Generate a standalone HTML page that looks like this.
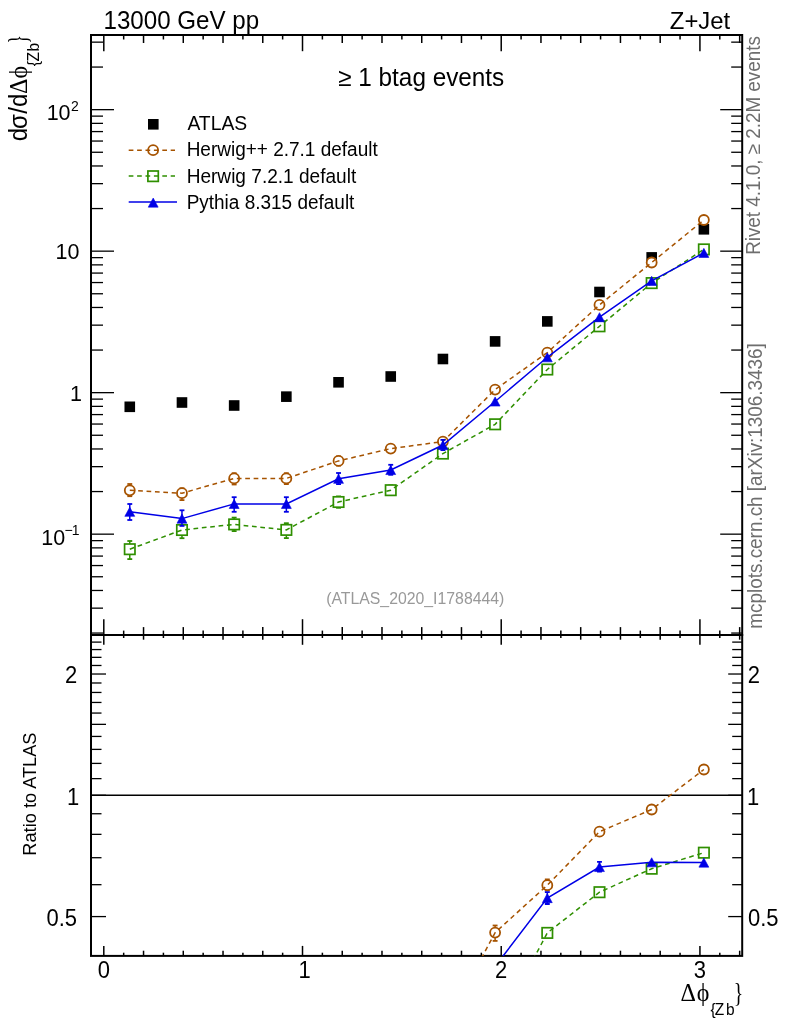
<!DOCTYPE html>
<html><head><meta charset="utf-8"><style>html,body{margin:0;padding:0;background:#fff;}svg{display:block;will-change:transform;}</style></head>
<body><svg width="786" height="1024" viewBox="0 0 786 1024">
<rect width="786" height="1024" fill="#fff"/>
<line x1="103.80" y1="35.00" x2="103.80" y2="51.20" stroke="#000" stroke-width="1.5"/>
<line x1="103.80" y1="635.00" x2="103.80" y2="619.20" stroke="#000" stroke-width="1.5"/>
<line x1="103.80" y1="635.00" x2="103.80" y2="644.80" stroke="#000" stroke-width="1.5"/>
<line x1="103.80" y1="955.90" x2="103.80" y2="945.90" stroke="#000" stroke-width="1.5"/>
<line x1="123.67" y1="35.00" x2="123.67" y2="39.50" stroke="#000" stroke-width="1.5"/>
<line x1="123.67" y1="635.00" x2="123.67" y2="630.60" stroke="#000" stroke-width="1.5"/>
<line x1="123.67" y1="635.00" x2="123.67" y2="638.00" stroke="#000" stroke-width="1.5"/>
<line x1="123.67" y1="955.90" x2="123.67" y2="952.70" stroke="#000" stroke-width="1.5"/>
<line x1="143.54" y1="35.00" x2="143.54" y2="43.00" stroke="#000" stroke-width="1.5"/>
<line x1="143.54" y1="635.00" x2="143.54" y2="627.10" stroke="#000" stroke-width="1.5"/>
<line x1="143.54" y1="635.00" x2="143.54" y2="639.70" stroke="#000" stroke-width="1.5"/>
<line x1="143.54" y1="955.90" x2="143.54" y2="950.70" stroke="#000" stroke-width="1.5"/>
<line x1="163.41" y1="35.00" x2="163.41" y2="39.50" stroke="#000" stroke-width="1.5"/>
<line x1="163.41" y1="635.00" x2="163.41" y2="630.60" stroke="#000" stroke-width="1.5"/>
<line x1="163.41" y1="635.00" x2="163.41" y2="638.00" stroke="#000" stroke-width="1.5"/>
<line x1="163.41" y1="955.90" x2="163.41" y2="952.70" stroke="#000" stroke-width="1.5"/>
<line x1="183.28" y1="35.00" x2="183.28" y2="43.00" stroke="#000" stroke-width="1.5"/>
<line x1="183.28" y1="635.00" x2="183.28" y2="627.10" stroke="#000" stroke-width="1.5"/>
<line x1="183.28" y1="635.00" x2="183.28" y2="639.70" stroke="#000" stroke-width="1.5"/>
<line x1="183.28" y1="955.90" x2="183.28" y2="950.70" stroke="#000" stroke-width="1.5"/>
<line x1="203.16" y1="35.00" x2="203.16" y2="39.50" stroke="#000" stroke-width="1.5"/>
<line x1="203.16" y1="635.00" x2="203.16" y2="630.60" stroke="#000" stroke-width="1.5"/>
<line x1="203.16" y1="635.00" x2="203.16" y2="638.00" stroke="#000" stroke-width="1.5"/>
<line x1="203.16" y1="955.90" x2="203.16" y2="952.70" stroke="#000" stroke-width="1.5"/>
<line x1="223.03" y1="35.00" x2="223.03" y2="43.00" stroke="#000" stroke-width="1.5"/>
<line x1="223.03" y1="635.00" x2="223.03" y2="627.10" stroke="#000" stroke-width="1.5"/>
<line x1="223.03" y1="635.00" x2="223.03" y2="639.70" stroke="#000" stroke-width="1.5"/>
<line x1="223.03" y1="955.90" x2="223.03" y2="950.70" stroke="#000" stroke-width="1.5"/>
<line x1="242.90" y1="35.00" x2="242.90" y2="39.50" stroke="#000" stroke-width="1.5"/>
<line x1="242.90" y1="635.00" x2="242.90" y2="630.60" stroke="#000" stroke-width="1.5"/>
<line x1="242.90" y1="635.00" x2="242.90" y2="638.00" stroke="#000" stroke-width="1.5"/>
<line x1="242.90" y1="955.90" x2="242.90" y2="952.70" stroke="#000" stroke-width="1.5"/>
<line x1="262.77" y1="35.00" x2="262.77" y2="43.00" stroke="#000" stroke-width="1.5"/>
<line x1="262.77" y1="635.00" x2="262.77" y2="627.10" stroke="#000" stroke-width="1.5"/>
<line x1="262.77" y1="635.00" x2="262.77" y2="639.70" stroke="#000" stroke-width="1.5"/>
<line x1="262.77" y1="955.90" x2="262.77" y2="950.70" stroke="#000" stroke-width="1.5"/>
<line x1="282.64" y1="35.00" x2="282.64" y2="39.50" stroke="#000" stroke-width="1.5"/>
<line x1="282.64" y1="635.00" x2="282.64" y2="630.60" stroke="#000" stroke-width="1.5"/>
<line x1="282.64" y1="635.00" x2="282.64" y2="638.00" stroke="#000" stroke-width="1.5"/>
<line x1="282.64" y1="955.90" x2="282.64" y2="952.70" stroke="#000" stroke-width="1.5"/>
<line x1="302.51" y1="35.00" x2="302.51" y2="51.20" stroke="#000" stroke-width="1.5"/>
<line x1="302.51" y1="635.00" x2="302.51" y2="619.20" stroke="#000" stroke-width="1.5"/>
<line x1="302.51" y1="635.00" x2="302.51" y2="644.80" stroke="#000" stroke-width="1.5"/>
<line x1="302.51" y1="955.90" x2="302.51" y2="945.90" stroke="#000" stroke-width="1.5"/>
<line x1="322.38" y1="35.00" x2="322.38" y2="39.50" stroke="#000" stroke-width="1.5"/>
<line x1="322.38" y1="635.00" x2="322.38" y2="630.60" stroke="#000" stroke-width="1.5"/>
<line x1="322.38" y1="635.00" x2="322.38" y2="638.00" stroke="#000" stroke-width="1.5"/>
<line x1="322.38" y1="955.90" x2="322.38" y2="952.70" stroke="#000" stroke-width="1.5"/>
<line x1="342.25" y1="35.00" x2="342.25" y2="43.00" stroke="#000" stroke-width="1.5"/>
<line x1="342.25" y1="635.00" x2="342.25" y2="627.10" stroke="#000" stroke-width="1.5"/>
<line x1="342.25" y1="635.00" x2="342.25" y2="639.70" stroke="#000" stroke-width="1.5"/>
<line x1="342.25" y1="955.90" x2="342.25" y2="950.70" stroke="#000" stroke-width="1.5"/>
<line x1="362.12" y1="35.00" x2="362.12" y2="39.50" stroke="#000" stroke-width="1.5"/>
<line x1="362.12" y1="635.00" x2="362.12" y2="630.60" stroke="#000" stroke-width="1.5"/>
<line x1="362.12" y1="635.00" x2="362.12" y2="638.00" stroke="#000" stroke-width="1.5"/>
<line x1="362.12" y1="955.90" x2="362.12" y2="952.70" stroke="#000" stroke-width="1.5"/>
<line x1="381.99" y1="35.00" x2="381.99" y2="43.00" stroke="#000" stroke-width="1.5"/>
<line x1="381.99" y1="635.00" x2="381.99" y2="627.10" stroke="#000" stroke-width="1.5"/>
<line x1="381.99" y1="635.00" x2="381.99" y2="639.70" stroke="#000" stroke-width="1.5"/>
<line x1="381.99" y1="955.90" x2="381.99" y2="950.70" stroke="#000" stroke-width="1.5"/>
<line x1="401.87" y1="35.00" x2="401.87" y2="39.50" stroke="#000" stroke-width="1.5"/>
<line x1="401.87" y1="635.00" x2="401.87" y2="630.60" stroke="#000" stroke-width="1.5"/>
<line x1="401.87" y1="635.00" x2="401.87" y2="638.00" stroke="#000" stroke-width="1.5"/>
<line x1="401.87" y1="955.90" x2="401.87" y2="952.70" stroke="#000" stroke-width="1.5"/>
<line x1="421.74" y1="35.00" x2="421.74" y2="43.00" stroke="#000" stroke-width="1.5"/>
<line x1="421.74" y1="635.00" x2="421.74" y2="627.10" stroke="#000" stroke-width="1.5"/>
<line x1="421.74" y1="635.00" x2="421.74" y2="639.70" stroke="#000" stroke-width="1.5"/>
<line x1="421.74" y1="955.90" x2="421.74" y2="950.70" stroke="#000" stroke-width="1.5"/>
<line x1="441.61" y1="35.00" x2="441.61" y2="39.50" stroke="#000" stroke-width="1.5"/>
<line x1="441.61" y1="635.00" x2="441.61" y2="630.60" stroke="#000" stroke-width="1.5"/>
<line x1="441.61" y1="635.00" x2="441.61" y2="638.00" stroke="#000" stroke-width="1.5"/>
<line x1="441.61" y1="955.90" x2="441.61" y2="952.70" stroke="#000" stroke-width="1.5"/>
<line x1="461.48" y1="35.00" x2="461.48" y2="43.00" stroke="#000" stroke-width="1.5"/>
<line x1="461.48" y1="635.00" x2="461.48" y2="627.10" stroke="#000" stroke-width="1.5"/>
<line x1="461.48" y1="635.00" x2="461.48" y2="639.70" stroke="#000" stroke-width="1.5"/>
<line x1="461.48" y1="955.90" x2="461.48" y2="950.70" stroke="#000" stroke-width="1.5"/>
<line x1="481.35" y1="35.00" x2="481.35" y2="39.50" stroke="#000" stroke-width="1.5"/>
<line x1="481.35" y1="635.00" x2="481.35" y2="630.60" stroke="#000" stroke-width="1.5"/>
<line x1="481.35" y1="635.00" x2="481.35" y2="638.00" stroke="#000" stroke-width="1.5"/>
<line x1="481.35" y1="955.90" x2="481.35" y2="952.70" stroke="#000" stroke-width="1.5"/>
<line x1="501.22" y1="35.00" x2="501.22" y2="51.20" stroke="#000" stroke-width="1.5"/>
<line x1="501.22" y1="635.00" x2="501.22" y2="619.20" stroke="#000" stroke-width="1.5"/>
<line x1="501.22" y1="635.00" x2="501.22" y2="644.80" stroke="#000" stroke-width="1.5"/>
<line x1="501.22" y1="955.90" x2="501.22" y2="945.90" stroke="#000" stroke-width="1.5"/>
<line x1="521.09" y1="35.00" x2="521.09" y2="39.50" stroke="#000" stroke-width="1.5"/>
<line x1="521.09" y1="635.00" x2="521.09" y2="630.60" stroke="#000" stroke-width="1.5"/>
<line x1="521.09" y1="635.00" x2="521.09" y2="638.00" stroke="#000" stroke-width="1.5"/>
<line x1="521.09" y1="955.90" x2="521.09" y2="952.70" stroke="#000" stroke-width="1.5"/>
<line x1="540.96" y1="35.00" x2="540.96" y2="43.00" stroke="#000" stroke-width="1.5"/>
<line x1="540.96" y1="635.00" x2="540.96" y2="627.10" stroke="#000" stroke-width="1.5"/>
<line x1="540.96" y1="635.00" x2="540.96" y2="639.70" stroke="#000" stroke-width="1.5"/>
<line x1="540.96" y1="955.90" x2="540.96" y2="950.70" stroke="#000" stroke-width="1.5"/>
<line x1="560.83" y1="35.00" x2="560.83" y2="39.50" stroke="#000" stroke-width="1.5"/>
<line x1="560.83" y1="635.00" x2="560.83" y2="630.60" stroke="#000" stroke-width="1.5"/>
<line x1="560.83" y1="635.00" x2="560.83" y2="638.00" stroke="#000" stroke-width="1.5"/>
<line x1="560.83" y1="955.90" x2="560.83" y2="952.70" stroke="#000" stroke-width="1.5"/>
<line x1="580.70" y1="35.00" x2="580.70" y2="43.00" stroke="#000" stroke-width="1.5"/>
<line x1="580.70" y1="635.00" x2="580.70" y2="627.10" stroke="#000" stroke-width="1.5"/>
<line x1="580.70" y1="635.00" x2="580.70" y2="639.70" stroke="#000" stroke-width="1.5"/>
<line x1="580.70" y1="955.90" x2="580.70" y2="950.70" stroke="#000" stroke-width="1.5"/>
<line x1="600.58" y1="35.00" x2="600.58" y2="39.50" stroke="#000" stroke-width="1.5"/>
<line x1="600.58" y1="635.00" x2="600.58" y2="630.60" stroke="#000" stroke-width="1.5"/>
<line x1="600.58" y1="635.00" x2="600.58" y2="638.00" stroke="#000" stroke-width="1.5"/>
<line x1="600.58" y1="955.90" x2="600.58" y2="952.70" stroke="#000" stroke-width="1.5"/>
<line x1="620.45" y1="35.00" x2="620.45" y2="43.00" stroke="#000" stroke-width="1.5"/>
<line x1="620.45" y1="635.00" x2="620.45" y2="627.10" stroke="#000" stroke-width="1.5"/>
<line x1="620.45" y1="635.00" x2="620.45" y2="639.70" stroke="#000" stroke-width="1.5"/>
<line x1="620.45" y1="955.90" x2="620.45" y2="950.70" stroke="#000" stroke-width="1.5"/>
<line x1="640.32" y1="35.00" x2="640.32" y2="39.50" stroke="#000" stroke-width="1.5"/>
<line x1="640.32" y1="635.00" x2="640.32" y2="630.60" stroke="#000" stroke-width="1.5"/>
<line x1="640.32" y1="635.00" x2="640.32" y2="638.00" stroke="#000" stroke-width="1.5"/>
<line x1="640.32" y1="955.90" x2="640.32" y2="952.70" stroke="#000" stroke-width="1.5"/>
<line x1="660.19" y1="35.00" x2="660.19" y2="43.00" stroke="#000" stroke-width="1.5"/>
<line x1="660.19" y1="635.00" x2="660.19" y2="627.10" stroke="#000" stroke-width="1.5"/>
<line x1="660.19" y1="635.00" x2="660.19" y2="639.70" stroke="#000" stroke-width="1.5"/>
<line x1="660.19" y1="955.90" x2="660.19" y2="950.70" stroke="#000" stroke-width="1.5"/>
<line x1="680.06" y1="35.00" x2="680.06" y2="39.50" stroke="#000" stroke-width="1.5"/>
<line x1="680.06" y1="635.00" x2="680.06" y2="630.60" stroke="#000" stroke-width="1.5"/>
<line x1="680.06" y1="635.00" x2="680.06" y2="638.00" stroke="#000" stroke-width="1.5"/>
<line x1="680.06" y1="955.90" x2="680.06" y2="952.70" stroke="#000" stroke-width="1.5"/>
<line x1="699.93" y1="35.00" x2="699.93" y2="51.20" stroke="#000" stroke-width="1.5"/>
<line x1="699.93" y1="635.00" x2="699.93" y2="619.20" stroke="#000" stroke-width="1.5"/>
<line x1="699.93" y1="635.00" x2="699.93" y2="644.80" stroke="#000" stroke-width="1.5"/>
<line x1="699.93" y1="955.90" x2="699.93" y2="945.90" stroke="#000" stroke-width="1.5"/>
<line x1="719.80" y1="35.00" x2="719.80" y2="39.50" stroke="#000" stroke-width="1.5"/>
<line x1="719.80" y1="635.00" x2="719.80" y2="630.60" stroke="#000" stroke-width="1.5"/>
<line x1="719.80" y1="635.00" x2="719.80" y2="638.00" stroke="#000" stroke-width="1.5"/>
<line x1="719.80" y1="955.90" x2="719.80" y2="952.70" stroke="#000" stroke-width="1.5"/>
<line x1="739.67" y1="35.00" x2="739.67" y2="43.00" stroke="#000" stroke-width="1.5"/>
<line x1="739.67" y1="635.00" x2="739.67" y2="627.10" stroke="#000" stroke-width="1.5"/>
<line x1="739.67" y1="635.00" x2="739.67" y2="639.70" stroke="#000" stroke-width="1.5"/>
<line x1="739.67" y1="955.90" x2="739.67" y2="950.70" stroke="#000" stroke-width="1.5"/>
<line x1="91.00" y1="633.06" x2="103.00" y2="633.06" stroke="#000" stroke-width="1.3"/>
<line x1="742.20" y1="633.06" x2="731.20" y2="633.06" stroke="#000" stroke-width="1.3"/>
<line x1="91.00" y1="608.15" x2="103.00" y2="608.15" stroke="#000" stroke-width="1.3"/>
<line x1="742.20" y1="608.15" x2="731.20" y2="608.15" stroke="#000" stroke-width="1.3"/>
<line x1="91.00" y1="590.47" x2="103.00" y2="590.47" stroke="#000" stroke-width="1.3"/>
<line x1="742.20" y1="590.47" x2="731.20" y2="590.47" stroke="#000" stroke-width="1.3"/>
<line x1="91.00" y1="576.76" x2="103.00" y2="576.76" stroke="#000" stroke-width="1.3"/>
<line x1="742.20" y1="576.76" x2="731.20" y2="576.76" stroke="#000" stroke-width="1.3"/>
<line x1="91.00" y1="565.55" x2="103.00" y2="565.55" stroke="#000" stroke-width="1.3"/>
<line x1="742.20" y1="565.55" x2="731.20" y2="565.55" stroke="#000" stroke-width="1.3"/>
<line x1="91.00" y1="556.08" x2="103.00" y2="556.08" stroke="#000" stroke-width="1.3"/>
<line x1="742.20" y1="556.08" x2="731.20" y2="556.08" stroke="#000" stroke-width="1.3"/>
<line x1="91.00" y1="547.87" x2="103.00" y2="547.87" stroke="#000" stroke-width="1.3"/>
<line x1="742.20" y1="547.87" x2="731.20" y2="547.87" stroke="#000" stroke-width="1.3"/>
<line x1="91.00" y1="540.63" x2="103.00" y2="540.63" stroke="#000" stroke-width="1.3"/>
<line x1="742.20" y1="540.63" x2="731.20" y2="540.63" stroke="#000" stroke-width="1.3"/>
<line x1="91.00" y1="534.16" x2="114.00" y2="534.16" stroke="#000" stroke-width="1.3"/>
<line x1="742.20" y1="534.16" x2="720.20" y2="534.16" stroke="#000" stroke-width="1.3"/>
<line x1="91.00" y1="491.56" x2="103.00" y2="491.56" stroke="#000" stroke-width="1.3"/>
<line x1="742.20" y1="491.56" x2="731.20" y2="491.56" stroke="#000" stroke-width="1.3"/>
<line x1="91.00" y1="466.65" x2="103.00" y2="466.65" stroke="#000" stroke-width="1.3"/>
<line x1="742.20" y1="466.65" x2="731.20" y2="466.65" stroke="#000" stroke-width="1.3"/>
<line x1="91.00" y1="448.97" x2="103.00" y2="448.97" stroke="#000" stroke-width="1.3"/>
<line x1="742.20" y1="448.97" x2="731.20" y2="448.97" stroke="#000" stroke-width="1.3"/>
<line x1="91.00" y1="435.26" x2="103.00" y2="435.26" stroke="#000" stroke-width="1.3"/>
<line x1="742.20" y1="435.26" x2="731.20" y2="435.26" stroke="#000" stroke-width="1.3"/>
<line x1="91.00" y1="424.05" x2="103.00" y2="424.05" stroke="#000" stroke-width="1.3"/>
<line x1="742.20" y1="424.05" x2="731.20" y2="424.05" stroke="#000" stroke-width="1.3"/>
<line x1="91.00" y1="414.58" x2="103.00" y2="414.58" stroke="#000" stroke-width="1.3"/>
<line x1="742.20" y1="414.58" x2="731.20" y2="414.58" stroke="#000" stroke-width="1.3"/>
<line x1="91.00" y1="406.37" x2="103.00" y2="406.37" stroke="#000" stroke-width="1.3"/>
<line x1="742.20" y1="406.37" x2="731.20" y2="406.37" stroke="#000" stroke-width="1.3"/>
<line x1="91.00" y1="399.13" x2="103.00" y2="399.13" stroke="#000" stroke-width="1.3"/>
<line x1="742.20" y1="399.13" x2="731.20" y2="399.13" stroke="#000" stroke-width="1.3"/>
<line x1="91.00" y1="392.66" x2="114.00" y2="392.66" stroke="#000" stroke-width="1.3"/>
<line x1="742.20" y1="392.66" x2="720.20" y2="392.66" stroke="#000" stroke-width="1.3"/>
<line x1="91.00" y1="350.06" x2="103.00" y2="350.06" stroke="#000" stroke-width="1.3"/>
<line x1="742.20" y1="350.06" x2="731.20" y2="350.06" stroke="#000" stroke-width="1.3"/>
<line x1="91.00" y1="325.15" x2="103.00" y2="325.15" stroke="#000" stroke-width="1.3"/>
<line x1="742.20" y1="325.15" x2="731.20" y2="325.15" stroke="#000" stroke-width="1.3"/>
<line x1="91.00" y1="307.47" x2="103.00" y2="307.47" stroke="#000" stroke-width="1.3"/>
<line x1="742.20" y1="307.47" x2="731.20" y2="307.47" stroke="#000" stroke-width="1.3"/>
<line x1="91.00" y1="293.76" x2="103.00" y2="293.76" stroke="#000" stroke-width="1.3"/>
<line x1="742.20" y1="293.76" x2="731.20" y2="293.76" stroke="#000" stroke-width="1.3"/>
<line x1="91.00" y1="282.55" x2="103.00" y2="282.55" stroke="#000" stroke-width="1.3"/>
<line x1="742.20" y1="282.55" x2="731.20" y2="282.55" stroke="#000" stroke-width="1.3"/>
<line x1="91.00" y1="273.08" x2="103.00" y2="273.08" stroke="#000" stroke-width="1.3"/>
<line x1="742.20" y1="273.08" x2="731.20" y2="273.08" stroke="#000" stroke-width="1.3"/>
<line x1="91.00" y1="264.87" x2="103.00" y2="264.87" stroke="#000" stroke-width="1.3"/>
<line x1="742.20" y1="264.87" x2="731.20" y2="264.87" stroke="#000" stroke-width="1.3"/>
<line x1="91.00" y1="257.63" x2="103.00" y2="257.63" stroke="#000" stroke-width="1.3"/>
<line x1="742.20" y1="257.63" x2="731.20" y2="257.63" stroke="#000" stroke-width="1.3"/>
<line x1="91.00" y1="251.16" x2="114.00" y2="251.16" stroke="#000" stroke-width="1.3"/>
<line x1="742.20" y1="251.16" x2="720.20" y2="251.16" stroke="#000" stroke-width="1.3"/>
<line x1="91.00" y1="208.56" x2="103.00" y2="208.56" stroke="#000" stroke-width="1.3"/>
<line x1="742.20" y1="208.56" x2="731.20" y2="208.56" stroke="#000" stroke-width="1.3"/>
<line x1="91.00" y1="183.65" x2="103.00" y2="183.65" stroke="#000" stroke-width="1.3"/>
<line x1="742.20" y1="183.65" x2="731.20" y2="183.65" stroke="#000" stroke-width="1.3"/>
<line x1="91.00" y1="165.97" x2="103.00" y2="165.97" stroke="#000" stroke-width="1.3"/>
<line x1="742.20" y1="165.97" x2="731.20" y2="165.97" stroke="#000" stroke-width="1.3"/>
<line x1="91.00" y1="152.26" x2="103.00" y2="152.26" stroke="#000" stroke-width="1.3"/>
<line x1="742.20" y1="152.26" x2="731.20" y2="152.26" stroke="#000" stroke-width="1.3"/>
<line x1="91.00" y1="141.05" x2="103.00" y2="141.05" stroke="#000" stroke-width="1.3"/>
<line x1="742.20" y1="141.05" x2="731.20" y2="141.05" stroke="#000" stroke-width="1.3"/>
<line x1="91.00" y1="131.58" x2="103.00" y2="131.58" stroke="#000" stroke-width="1.3"/>
<line x1="742.20" y1="131.58" x2="731.20" y2="131.58" stroke="#000" stroke-width="1.3"/>
<line x1="91.00" y1="123.37" x2="103.00" y2="123.37" stroke="#000" stroke-width="1.3"/>
<line x1="742.20" y1="123.37" x2="731.20" y2="123.37" stroke="#000" stroke-width="1.3"/>
<line x1="91.00" y1="116.13" x2="103.00" y2="116.13" stroke="#000" stroke-width="1.3"/>
<line x1="742.20" y1="116.13" x2="731.20" y2="116.13" stroke="#000" stroke-width="1.3"/>
<line x1="91.00" y1="109.66" x2="114.00" y2="109.66" stroke="#000" stroke-width="1.3"/>
<line x1="742.20" y1="109.66" x2="720.20" y2="109.66" stroke="#000" stroke-width="1.3"/>
<line x1="91.00" y1="67.06" x2="103.00" y2="67.06" stroke="#000" stroke-width="1.3"/>
<line x1="742.20" y1="67.06" x2="731.20" y2="67.06" stroke="#000" stroke-width="1.3"/>
<line x1="91.00" y1="42.15" x2="103.00" y2="42.15" stroke="#000" stroke-width="1.3"/>
<line x1="742.20" y1="42.15" x2="731.20" y2="42.15" stroke="#000" stroke-width="1.3"/>
<line x1="91.00" y1="916.58" x2="106.00" y2="916.58" stroke="#000" stroke-width="1.3"/>
<line x1="742.20" y1="916.58" x2="728.20" y2="916.58" stroke="#000" stroke-width="1.3"/>
<line x1="91.00" y1="884.68" x2="101.50" y2="884.68" stroke="#000" stroke-width="1.3"/>
<line x1="742.20" y1="884.68" x2="732.20" y2="884.68" stroke="#000" stroke-width="1.3"/>
<line x1="91.00" y1="857.71" x2="101.50" y2="857.71" stroke="#000" stroke-width="1.3"/>
<line x1="742.20" y1="857.71" x2="732.20" y2="857.71" stroke="#000" stroke-width="1.3"/>
<line x1="91.00" y1="834.35" x2="101.50" y2="834.35" stroke="#000" stroke-width="1.3"/>
<line x1="742.20" y1="834.35" x2="732.20" y2="834.35" stroke="#000" stroke-width="1.3"/>
<line x1="91.00" y1="813.74" x2="101.50" y2="813.74" stroke="#000" stroke-width="1.3"/>
<line x1="742.20" y1="813.74" x2="732.20" y2="813.74" stroke="#000" stroke-width="1.3"/>
<line x1="91.00" y1="795.30" x2="106.00" y2="795.30" stroke="#000" stroke-width="1.3"/>
<line x1="742.20" y1="795.30" x2="728.20" y2="795.30" stroke="#000" stroke-width="1.3"/>
<line x1="91.00" y1="778.62" x2="101.50" y2="778.62" stroke="#000" stroke-width="1.3"/>
<line x1="742.20" y1="778.62" x2="732.20" y2="778.62" stroke="#000" stroke-width="1.3"/>
<line x1="91.00" y1="763.40" x2="101.50" y2="763.40" stroke="#000" stroke-width="1.3"/>
<line x1="742.20" y1="763.40" x2="732.20" y2="763.40" stroke="#000" stroke-width="1.3"/>
<line x1="91.00" y1="749.39" x2="101.50" y2="749.39" stroke="#000" stroke-width="1.3"/>
<line x1="742.20" y1="749.39" x2="732.20" y2="749.39" stroke="#000" stroke-width="1.3"/>
<line x1="91.00" y1="736.43" x2="101.50" y2="736.43" stroke="#000" stroke-width="1.3"/>
<line x1="742.20" y1="736.43" x2="732.20" y2="736.43" stroke="#000" stroke-width="1.3"/>
<line x1="91.00" y1="724.35" x2="106.00" y2="724.35" stroke="#000" stroke-width="1.3"/>
<line x1="742.20" y1="724.35" x2="728.20" y2="724.35" stroke="#000" stroke-width="1.3"/>
<line x1="91.00" y1="713.06" x2="101.50" y2="713.06" stroke="#000" stroke-width="1.3"/>
<line x1="742.20" y1="713.06" x2="732.20" y2="713.06" stroke="#000" stroke-width="1.3"/>
<line x1="91.00" y1="702.45" x2="101.50" y2="702.45" stroke="#000" stroke-width="1.3"/>
<line x1="742.20" y1="702.45" x2="732.20" y2="702.45" stroke="#000" stroke-width="1.3"/>
<line x1="91.00" y1="692.45" x2="101.50" y2="692.45" stroke="#000" stroke-width="1.3"/>
<line x1="742.20" y1="692.45" x2="732.20" y2="692.45" stroke="#000" stroke-width="1.3"/>
<line x1="91.00" y1="682.99" x2="101.50" y2="682.99" stroke="#000" stroke-width="1.3"/>
<line x1="742.20" y1="682.99" x2="732.20" y2="682.99" stroke="#000" stroke-width="1.3"/>
<line x1="91.00" y1="674.02" x2="106.00" y2="674.02" stroke="#000" stroke-width="1.3"/>
<line x1="742.20" y1="674.02" x2="728.20" y2="674.02" stroke="#000" stroke-width="1.3"/>
<line x1="91.00" y1="665.48" x2="101.50" y2="665.48" stroke="#000" stroke-width="1.3"/>
<line x1="742.20" y1="665.48" x2="732.20" y2="665.48" stroke="#000" stroke-width="1.3"/>
<line x1="91.00" y1="657.34" x2="101.50" y2="657.34" stroke="#000" stroke-width="1.3"/>
<line x1="742.20" y1="657.34" x2="732.20" y2="657.34" stroke="#000" stroke-width="1.3"/>
<line x1="91.00" y1="649.56" x2="101.50" y2="649.56" stroke="#000" stroke-width="1.3"/>
<line x1="742.20" y1="649.56" x2="732.20" y2="649.56" stroke="#000" stroke-width="1.3"/>
<line x1="91.00" y1="642.11" x2="101.50" y2="642.11" stroke="#000" stroke-width="1.3"/>
<line x1="742.20" y1="642.11" x2="732.20" y2="642.11" stroke="#000" stroke-width="1.3"/>
<line x1="91" y1="795.30" x2="742.2" y2="795.30" stroke="#000" stroke-width="1.5"/>
<rect x="91" y="35" width="651.20" height="600" fill="none" stroke="#000" stroke-width="2"/>
<rect x="91" y="635" width="651.20" height="320.90" fill="none" stroke="#000" stroke-width="2"/>
<clipPath id="cm"><rect x="91" y="35" width="651.2" height="600"/></clipPath>
<clipPath id="cr"><rect x="91" y="635" width="651.2" height="320.9"/></clipPath>
<g clip-path="url(#cm)">
<rect x="124.48" y="401.50" width="10.6" height="10.6" fill="#000" stroke="none" stroke-width="0"/>
<rect x="176.67" y="397.20" width="10.6" height="10.6" fill="#000" stroke="none" stroke-width="0"/>
<rect x="228.86" y="400.20" width="10.6" height="10.6" fill="#000" stroke="none" stroke-width="0"/>
<rect x="281.05" y="391.35" width="10.6" height="10.6" fill="#000" stroke="none" stroke-width="0"/>
<rect x="333.24" y="377.00" width="10.6" height="10.6" fill="#000" stroke="none" stroke-width="0"/>
<rect x="385.43" y="371.20" width="10.6" height="10.6" fill="#000" stroke="none" stroke-width="0"/>
<rect x="437.62" y="353.70" width="10.6" height="10.6" fill="#000" stroke="none" stroke-width="0"/>
<rect x="489.81" y="336.10" width="10.6" height="10.6" fill="#000" stroke="none" stroke-width="0"/>
<rect x="542.00" y="316.10" width="10.6" height="10.6" fill="#000" stroke="none" stroke-width="0"/>
<rect x="594.19" y="286.70" width="10.6" height="10.6" fill="#000" stroke="none" stroke-width="0"/>
<rect x="646.38" y="252.10" width="10.6" height="10.6" fill="#000" stroke="none" stroke-width="0"/>
<rect x="698.57" y="224.00" width="10.6" height="10.6" fill="#000" stroke="none" stroke-width="0"/>
<line x1="129.78" y1="484.00" x2="129.78" y2="496.20" stroke="#a65300" stroke-width="1.5"/><line x1="127.33" y1="484.00" x2="132.23" y2="484.00" stroke="#a65300" stroke-width="1.8"/><line x1="127.33" y1="496.20" x2="132.23" y2="496.20" stroke="#a65300" stroke-width="1.8"/>
<circle cx="129.78" cy="490.30" r="5.0" fill="#fff" stroke="#a65300" stroke-width="1.8"/>
<line x1="181.97" y1="488.30" x2="181.97" y2="500.10" stroke="#a65300" stroke-width="1.5"/><line x1="179.52" y1="488.30" x2="184.42" y2="488.30" stroke="#a65300" stroke-width="1.8"/><line x1="179.52" y1="500.10" x2="184.42" y2="500.10" stroke="#a65300" stroke-width="1.8"/>
<circle cx="181.97" cy="493.20" r="5.0" fill="#fff" stroke="#a65300" stroke-width="1.8"/>
<line x1="234.16" y1="473.20" x2="234.16" y2="484.50" stroke="#a65300" stroke-width="1.5"/><line x1="231.71" y1="473.20" x2="236.61" y2="473.20" stroke="#a65300" stroke-width="1.8"/><line x1="231.71" y1="484.50" x2="236.61" y2="484.50" stroke="#a65300" stroke-width="1.8"/>
<circle cx="234.16" cy="478.40" r="5.0" fill="#fff" stroke="#a65300" stroke-width="1.8"/>
<line x1="286.35" y1="473.20" x2="286.35" y2="484.10" stroke="#a65300" stroke-width="1.5"/><line x1="283.90" y1="473.20" x2="288.80" y2="473.20" stroke="#a65300" stroke-width="1.8"/><line x1="283.90" y1="484.10" x2="288.80" y2="484.10" stroke="#a65300" stroke-width="1.8"/>
<circle cx="286.35" cy="478.40" r="5.0" fill="#fff" stroke="#a65300" stroke-width="1.8"/>
<line x1="338.54" y1="456.40" x2="338.54" y2="465.60" stroke="#a65300" stroke-width="1.5"/><line x1="336.09" y1="456.40" x2="340.99" y2="456.40" stroke="#a65300" stroke-width="1.8"/><line x1="336.09" y1="465.60" x2="340.99" y2="465.60" stroke="#a65300" stroke-width="1.8"/>
<circle cx="338.54" cy="460.90" r="5.0" fill="#fff" stroke="#a65300" stroke-width="1.8"/>
<circle cx="390.73" cy="448.60" r="5.0" fill="#fff" stroke="#a65300" stroke-width="1.8"/>
<circle cx="442.92" cy="441.60" r="5.0" fill="#fff" stroke="#a65300" stroke-width="1.8"/>
<circle cx="495.11" cy="389.60" r="5.0" fill="#fff" stroke="#a65300" stroke-width="1.8"/>
<circle cx="547.30" cy="352.60" r="5.0" fill="#fff" stroke="#a65300" stroke-width="1.8"/>
<circle cx="599.49" cy="304.90" r="5.0" fill="#fff" stroke="#a65300" stroke-width="1.8"/>
<circle cx="651.68" cy="262.50" r="5.0" fill="#fff" stroke="#a65300" stroke-width="1.8"/>
<circle cx="703.87" cy="220.00" r="5.0" fill="#fff" stroke="#a65300" stroke-width="1.8"/>
<polyline points="129.78,490.30 181.97,493.20 234.16,478.40 286.35,478.40 338.54,460.90 390.73,448.60 442.92,441.60 495.11,389.60 547.30,352.60 599.49,304.90 651.68,262.50 703.87,220.00" fill="none" stroke="#a65300" stroke-width="1.5" stroke-dasharray="4.7 3.7"/>
<line x1="129.78" y1="541.00" x2="129.78" y2="559.10" stroke="#2f8f00" stroke-width="1.5"/><line x1="127.33" y1="541.00" x2="132.23" y2="541.00" stroke="#2f8f00" stroke-width="1.8"/><line x1="127.33" y1="559.10" x2="132.23" y2="559.10" stroke="#2f8f00" stroke-width="1.8"/>
<rect x="124.58" y="544.00" width="10.4" height="10.4" fill="#fff" stroke="#2f8f00" stroke-width="1.7"/>
<line x1="181.97" y1="525.40" x2="181.97" y2="538.20" stroke="#2f8f00" stroke-width="1.5"/><line x1="179.52" y1="525.40" x2="184.42" y2="525.40" stroke="#2f8f00" stroke-width="1.8"/><line x1="179.52" y1="538.20" x2="184.42" y2="538.20" stroke="#2f8f00" stroke-width="1.8"/>
<rect x="176.77" y="524.80" width="10.4" height="10.4" fill="#fff" stroke="#2f8f00" stroke-width="1.7"/>
<line x1="234.16" y1="517.60" x2="234.16" y2="531.10" stroke="#2f8f00" stroke-width="1.5"/><line x1="231.71" y1="517.60" x2="236.61" y2="517.60" stroke="#2f8f00" stroke-width="1.8"/><line x1="231.71" y1="531.10" x2="236.61" y2="531.10" stroke="#2f8f00" stroke-width="1.8"/>
<rect x="228.96" y="519.20" width="10.4" height="10.4" fill="#fff" stroke="#2f8f00" stroke-width="1.7"/>
<line x1="286.35" y1="523.20" x2="286.35" y2="538.10" stroke="#2f8f00" stroke-width="1.5"/><line x1="283.90" y1="523.20" x2="288.80" y2="523.20" stroke="#2f8f00" stroke-width="1.8"/><line x1="283.90" y1="538.10" x2="288.80" y2="538.10" stroke="#2f8f00" stroke-width="1.8"/>
<rect x="281.15" y="524.70" width="10.4" height="10.4" fill="#fff" stroke="#2f8f00" stroke-width="1.7"/>
<line x1="338.54" y1="496.40" x2="338.54" y2="507.80" stroke="#2f8f00" stroke-width="1.5"/><line x1="336.09" y1="496.40" x2="340.99" y2="496.40" stroke="#2f8f00" stroke-width="1.8"/><line x1="336.09" y1="507.80" x2="340.99" y2="507.80" stroke="#2f8f00" stroke-width="1.8"/>
<rect x="333.34" y="496.80" width="10.4" height="10.4" fill="#fff" stroke="#2f8f00" stroke-width="1.7"/>
<line x1="390.73" y1="485.40" x2="390.73" y2="495.10" stroke="#2f8f00" stroke-width="1.5"/><line x1="388.28" y1="485.40" x2="393.18" y2="485.40" stroke="#2f8f00" stroke-width="1.8"/><line x1="388.28" y1="495.10" x2="393.18" y2="495.10" stroke="#2f8f00" stroke-width="1.8"/>
<rect x="385.53" y="485.00" width="10.4" height="10.4" fill="#fff" stroke="#2f8f00" stroke-width="1.7"/>
<rect x="437.72" y="448.40" width="10.4" height="10.4" fill="#fff" stroke="#2f8f00" stroke-width="1.7"/>
<rect x="489.91" y="419.10" width="10.4" height="10.4" fill="#fff" stroke="#2f8f00" stroke-width="1.7"/>
<rect x="542.10" y="364.30" width="10.4" height="10.4" fill="#fff" stroke="#2f8f00" stroke-width="1.7"/>
<rect x="594.29" y="321.10" width="10.4" height="10.4" fill="#fff" stroke="#2f8f00" stroke-width="1.7"/>
<rect x="646.48" y="277.90" width="10.4" height="10.4" fill="#fff" stroke="#2f8f00" stroke-width="1.7"/>
<rect x="698.67" y="244.20" width="10.4" height="10.4" fill="#fff" stroke="#2f8f00" stroke-width="1.7"/>
<polyline points="129.78,549.20 181.97,530.00 234.16,524.40 286.35,529.90 338.54,502.00 390.73,490.20 442.92,453.60 495.11,424.30 547.30,369.50 599.49,326.30 651.68,283.10 703.87,249.40" fill="none" stroke="#2f8f00" stroke-width="1.5" stroke-dasharray="4.7 3.7"/>
<polyline points="129.78,511.80 181.97,518.60 234.16,503.90 286.35,503.90 338.54,478.80 390.73,470.00 442.92,445.00 495.11,401.50 547.30,357.30 599.49,317.20 651.68,280.90 703.87,252.90" fill="none" stroke="#0000e6" stroke-width="1.5"/>
<line x1="129.78" y1="504.00" x2="129.78" y2="520.00" stroke="#0000e6" stroke-width="1.5"/><line x1="127.33" y1="504.00" x2="132.23" y2="504.00" stroke="#0000e6" stroke-width="1.8"/><line x1="127.33" y1="520.00" x2="132.23" y2="520.00" stroke="#0000e6" stroke-width="1.8"/>
<path d="M129.78 507.25 L134.73 516.35 L124.83 516.35 Z" fill="#0000e6" stroke="#0000e6" stroke-width="0.6" stroke-linejoin="miter"/>
<line x1="181.97" y1="510.30" x2="181.97" y2="525.90" stroke="#0000e6" stroke-width="1.5"/><line x1="179.52" y1="510.30" x2="184.42" y2="510.30" stroke="#0000e6" stroke-width="1.8"/><line x1="179.52" y1="525.90" x2="184.42" y2="525.90" stroke="#0000e6" stroke-width="1.8"/>
<path d="M181.97 514.05 L186.92 523.15 L177.02 523.15 Z" fill="#0000e6" stroke="#0000e6" stroke-width="0.6" stroke-linejoin="miter"/>
<line x1="234.16" y1="497.20" x2="234.16" y2="511.80" stroke="#0000e6" stroke-width="1.5"/><line x1="231.71" y1="497.20" x2="236.61" y2="497.20" stroke="#0000e6" stroke-width="1.8"/><line x1="231.71" y1="511.80" x2="236.61" y2="511.80" stroke="#0000e6" stroke-width="1.8"/>
<path d="M234.16 499.35 L239.11 508.45 L229.21 508.45 Z" fill="#0000e6" stroke="#0000e6" stroke-width="0.6" stroke-linejoin="miter"/>
<line x1="286.35" y1="497.20" x2="286.35" y2="511.80" stroke="#0000e6" stroke-width="1.5"/><line x1="283.90" y1="497.20" x2="288.80" y2="497.20" stroke="#0000e6" stroke-width="1.8"/><line x1="283.90" y1="511.80" x2="288.80" y2="511.80" stroke="#0000e6" stroke-width="1.8"/>
<path d="M286.35 499.35 L291.30 508.45 L281.40 508.45 Z" fill="#0000e6" stroke="#0000e6" stroke-width="0.6" stroke-linejoin="miter"/>
<line x1="338.54" y1="473.00" x2="338.54" y2="484.10" stroke="#0000e6" stroke-width="1.5"/><line x1="336.09" y1="473.00" x2="340.99" y2="473.00" stroke="#0000e6" stroke-width="1.8"/><line x1="336.09" y1="484.10" x2="340.99" y2="484.10" stroke="#0000e6" stroke-width="1.8"/>
<path d="M338.54 474.25 L343.49 483.35 L333.59 483.35 Z" fill="#0000e6" stroke="#0000e6" stroke-width="0.6" stroke-linejoin="miter"/>
<line x1="390.73" y1="464.80" x2="390.73" y2="474.80" stroke="#0000e6" stroke-width="1.5"/><line x1="388.28" y1="464.80" x2="393.18" y2="464.80" stroke="#0000e6" stroke-width="1.8"/><line x1="388.28" y1="474.80" x2="393.18" y2="474.80" stroke="#0000e6" stroke-width="1.8"/>
<path d="M390.73 465.45 L395.68 474.55 L385.78 474.55 Z" fill="#0000e6" stroke="#0000e6" stroke-width="0.6" stroke-linejoin="miter"/>
<line x1="442.92" y1="439.90" x2="442.92" y2="450.10" stroke="#0000e6" stroke-width="1.5"/><line x1="440.47" y1="439.90" x2="445.37" y2="439.90" stroke="#0000e6" stroke-width="1.8"/><line x1="440.47" y1="450.10" x2="445.37" y2="450.10" stroke="#0000e6" stroke-width="1.8"/>
<path d="M442.92 440.45 L447.87 449.55 L437.97 449.55 Z" fill="#0000e6" stroke="#0000e6" stroke-width="0.6" stroke-linejoin="miter"/>
<path d="M495.11 396.95 L500.06 406.05 L490.16 406.05 Z" fill="#0000e6" stroke="#0000e6" stroke-width="0.6" stroke-linejoin="miter"/>
<path d="M547.30 352.75 L552.25 361.85 L542.35 361.85 Z" fill="#0000e6" stroke="#0000e6" stroke-width="0.6" stroke-linejoin="miter"/>
<path d="M599.49 312.65 L604.44 321.75 L594.54 321.75 Z" fill="#0000e6" stroke="#0000e6" stroke-width="0.6" stroke-linejoin="miter"/>
<path d="M651.68 276.35 L656.63 285.45 L646.73 285.45 Z" fill="#0000e6" stroke="#0000e6" stroke-width="0.6" stroke-linejoin="miter"/>
<path d="M703.87 248.35 L708.82 257.45 L698.92 257.45 Z" fill="#0000e6" stroke="#0000e6" stroke-width="0.6" stroke-linejoin="miter"/>
</g>
<g clip-path="url(#cr)">
<line x1="495.11" y1="925.50" x2="495.11" y2="940.90" stroke="#a65300" stroke-width="1.5"/><line x1="492.66" y1="925.50" x2="497.56" y2="925.50" stroke="#a65300" stroke-width="1.8"/><line x1="492.66" y1="940.90" x2="497.56" y2="940.90" stroke="#a65300" stroke-width="1.8"/>
<circle cx="495.11" cy="932.60" r="5.0" fill="#fff" stroke="#a65300" stroke-width="1.8"/>
<line x1="547.30" y1="879.40" x2="547.30" y2="890.60" stroke="#a65300" stroke-width="1.5"/><line x1="544.85" y1="879.40" x2="549.75" y2="879.40" stroke="#a65300" stroke-width="1.8"/><line x1="544.85" y1="890.60" x2="549.75" y2="890.60" stroke="#a65300" stroke-width="1.8"/>
<circle cx="547.30" cy="885.20" r="5.0" fill="#fff" stroke="#a65300" stroke-width="1.8"/>
<circle cx="599.49" cy="831.70" r="5.0" fill="#fff" stroke="#a65300" stroke-width="1.8"/>
<circle cx="651.68" cy="809.50" r="5.0" fill="#fff" stroke="#a65300" stroke-width="1.8"/>
<circle cx="703.87" cy="769.50" r="5.0" fill="#fff" stroke="#a65300" stroke-width="1.8"/>
<polyline points="129.78,1033.05 181.97,1053.55 234.16,1002.87 286.35,1028.07 338.54,1019.10 390.73,1000.59 442.92,1030.49 495.11,932.60 547.30,885.20 599.49,831.70 651.68,809.50 703.87,769.50" fill="none" stroke="#a65300" stroke-width="1.5" stroke-dasharray="4.7 3.7"/>
<rect x="542.10" y="927.70" width="10.4" height="10.4" fill="#fff" stroke="#2f8f00" stroke-width="1.7"/>
<rect x="594.29" y="887.00" width="10.4" height="10.4" fill="#fff" stroke="#2f8f00" stroke-width="1.7"/>
<rect x="646.48" y="863.50" width="10.4" height="10.4" fill="#fff" stroke="#2f8f00" stroke-width="1.7"/>
<rect x="698.67" y="847.50" width="10.4" height="10.4" fill="#fff" stroke="#2f8f00" stroke-width="1.7"/>
<polyline points="129.78,1200.76 181.97,1158.34 234.16,1133.85 286.35,1174.71 338.54,1136.13 390.73,1119.04 442.92,1064.66 495.11,1031.35 547.30,932.90 599.49,892.20 651.68,868.70 703.87,852.70" fill="none" stroke="#2f8f00" stroke-width="1.5" stroke-dasharray="4.7 3.7"/>
<polyline points="129.78,1094.27 181.97,1125.88 234.16,1075.48 286.35,1100.68 338.54,1070.07 390.73,1061.53 442.92,1040.17 495.11,966.43 547.30,898.10 599.49,867.00 651.68,862.30 703.87,862.60" fill="none" stroke="#0000e6" stroke-width="1.5"/>
<line x1="547.30" y1="892.20" x2="547.30" y2="904.00" stroke="#0000e6" stroke-width="1.5"/><line x1="544.85" y1="892.20" x2="549.75" y2="892.20" stroke="#0000e6" stroke-width="1.8"/><line x1="544.85" y1="904.00" x2="549.75" y2="904.00" stroke="#0000e6" stroke-width="1.8"/>
<path d="M547.30 893.55 L552.25 902.65 L542.35 902.65 Z" fill="#0000e6" stroke="#0000e6" stroke-width="0.6" stroke-linejoin="miter"/>
<line x1="599.49" y1="861.90" x2="599.49" y2="871.60" stroke="#0000e6" stroke-width="1.5"/><line x1="597.04" y1="861.90" x2="601.94" y2="861.90" stroke="#0000e6" stroke-width="1.8"/><line x1="597.04" y1="871.60" x2="601.94" y2="871.60" stroke="#0000e6" stroke-width="1.8"/>
<path d="M599.49 862.45 L604.44 871.55 L594.54 871.55 Z" fill="#0000e6" stroke="#0000e6" stroke-width="0.6" stroke-linejoin="miter"/>
<path d="M651.68 857.75 L656.63 866.85 L646.73 866.85 Z" fill="#0000e6" stroke="#0000e6" stroke-width="0.6" stroke-linejoin="miter"/>
<path d="M703.87 858.05 L708.82 867.15 L698.92 867.15 Z" fill="#0000e6" stroke="#0000e6" stroke-width="0.6" stroke-linejoin="miter"/>
</g>
<rect x="148.00" y="119.00" width="10.6" height="10.6" fill="#000" stroke="none" stroke-width="0"/>
<circle cx="153.10" cy="150.20" r="5.0" fill="#fff" stroke="#a65300" stroke-width="1.8"/>
<line x1="128.7" y1="150.2" x2="175" y2="150.2" stroke="#a65300" stroke-width="1.5" stroke-dasharray="4.7 3.7"/>
<rect x="147.90" y="171.00" width="10.4" height="10.4" fill="#fff" stroke="#2f8f00" stroke-width="1.7"/>
<line x1="128.7" y1="176.1" x2="175" y2="176.1" stroke="#2f8f00" stroke-width="1.5" stroke-dasharray="4.7 3.7"/>
<line x1="128.7" y1="202" x2="177" y2="202" stroke="#0000e6" stroke-width="1.5"/>
<path d="M153.20 198.05 L158.15 207.15 L148.25 207.15 Z" fill="#0000e6" stroke="#0000e6" stroke-width="0.6" stroke-linejoin="miter"/>
<text x="103.48" y="0" transform="translate(0,29.00) scale(1,1.04)" font-family="Liberation Sans" font-size="24.16" fill="#000">13000 GeV pp</text>
<text x="669.81" y="0" transform="translate(0,29.20) scale(1,1.04)" font-family="Liberation Sans" font-size="23.88" fill="#000">Z+Jet</text>
<text x="338.24" y="0" transform="translate(0,85.80) scale(1,1.04)" font-family="Liberation Sans" font-size="24.31" fill="#000">≥ 1 btag events</text>
<text x="187.41" y="0" transform="translate(0,129.90) scale(1,1.04)" font-family="Liberation Sans" font-size="19.33" fill="#000">ATLAS</text>
<text x="186.65" y="0" transform="translate(0,156.20) scale(1,1.04)" font-family="Liberation Sans" font-size="19.01" fill="#000">Herwig++ 2.7.1 default</text>
<text x="186.64" y="0" transform="translate(0,182.90) scale(1,1.04)" font-family="Liberation Sans" font-size="19.08" fill="#000">Herwig 7.2.1 default</text>
<text x="186.64" y="0" transform="translate(0,209.10) scale(1,1.04)" font-family="Liberation Sans" font-size="18.99" fill="#000">Pythia 8.315 default</text>
<text x="326.21" y="0" transform="translate(0,603.80) scale(1,1.04)" font-family="Liberation Sans" font-size="15.83" fill="#999999">(ATLAS_2020_I1788444)</text>
<text x="-1.66" y="0" transform="translate(759.90,253.20) rotate(-90) translate(0,0) scale(1,1.04)" font-family="Liberation Sans" font-size="18.85" fill="#6e6e6e">Rivet 4.1.0, ≥ 2.2M events</text>
<text x="-0.95" y="0" transform="translate(762.00,627.70) rotate(-90) translate(0,0) scale(1,1.04)" font-family="Liberation Sans" font-size="18.90" fill="#6e6e6e">mcplots.cern.ch [arXiv:1306.3436]</text>
<text x="-1.66" y="0" transform="translate(35.80,854.00) rotate(-90) translate(0,0) scale(1,1.04)" font-family="Liberation Sans" font-size="18.23" fill="#000">Ratio to ATLAS</text>
<text x="46.64" y="0" transform="translate(0,119.80) scale(1,1.05)" font-family="Liberation Sans" font-size="21.50" fill="#000">10</text>
<text x="70.90" y="0" transform="translate(0,111.00) scale(1,1.03)" font-family="Liberation Sans" font-size="14.00" fill="#000">2</text>
<text x="55.44" y="0" transform="translate(0,258.70) scale(1,1.05)" font-family="Liberation Sans" font-size="21.50" fill="#000">10</text>
<text x="70.09" y="0" transform="translate(0,400.80) scale(1,1.05)" font-family="Liberation Sans" font-size="21.50" fill="#000">1</text>
<text x="41.34" y="0" transform="translate(0,544.80) scale(1,1.05)" font-family="Liberation Sans" font-size="21.50" fill="#000">10</text>
<text x="64.41" y="0" transform="translate(0,534.70) scale(1,1.03)" font-family="Liberation Sans" font-size="14.00" fill="#000">−</text>
<text x="71.80" y="0" transform="translate(0,534.70) scale(1,1.03)" font-family="Liberation Sans" font-size="14.00" fill="#000">1</text>
<text x="64.97" y="0" transform="translate(0,683.22) scale(1,1.08)" font-family="Liberation Sans" font-size="22.00" fill="#000">2</text>
<text x="747.69" y="0" transform="translate(0,683.22) scale(1,1.08)" font-family="Liberation Sans" font-size="22.00" fill="#000">2</text>
<text x="66.94" y="0" transform="translate(0,804.50) scale(1,1.08)" font-family="Liberation Sans" font-size="22.00" fill="#000">1</text>
<text x="747.12" y="0" transform="translate(0,804.50) scale(1,1.08)" font-family="Liberation Sans" font-size="22.00" fill="#000">1</text>
<text x="46.44" y="0" transform="translate(0,925.78) scale(1,1.08)" font-family="Liberation Sans" font-size="22.00" fill="#000">0.5</text>
<text x="747.94" y="0" transform="translate(0,925.78) scale(1,1.08)" font-family="Liberation Sans" font-size="22.00" fill="#000">0.5</text>
<text x="97.68" y="0" transform="translate(0,978.20) scale(1,1.08)" font-family="Liberation Sans" font-size="22.00" fill="#000">0</text>
<text x="298.49" y="0" transform="translate(0,978.20) scale(1,1.08)" font-family="Liberation Sans" font-size="22.00" fill="#000">1</text>
<text x="495.10" y="0" transform="translate(0,978.20) scale(1,1.08)" font-family="Liberation Sans" font-size="22.00" fill="#000">2</text>
<text x="693.88" y="0" transform="translate(0,978.20) scale(1,1.08)" font-family="Liberation Sans" font-size="22.00" fill="#000">3</text>
<text x="-141.21" y="0" transform="translate(26.5,0) rotate(-90) scale(1,1.04)" font-family="Liberation Sans" font-size="24">d</text>
<text x="-129.11" y="0" transform="translate(26.5,0) rotate(-90) scale(1,1.04)" font-family="Liberation Sans" font-size="24">σ</text>
<text x="-113.80" y="0" transform="translate(26.5,0) rotate(-90) scale(1,1.04)" font-family="Liberation Sans" font-size="24">/</text>
<text x="-106.91" y="0" transform="translate(26.5,0) rotate(-90) scale(1,1.04)" font-family="Liberation Sans" font-size="24">d</text>
<text x="-94.11" y="0" transform="translate(26.5,0) rotate(-90) scale(1,1.04)" font-family="Liberation Serif" font-size="24">Δ</text>
<text x="-78.61" y="0" transform="translate(26.5,0) rotate(-90) scale(1,1.04)" font-family="Liberation Serif" font-size="24">ϕ</text>
<text x="-66.16" y="0" transform="translate(38.9,0) rotate(-90) scale(1,1.04)" font-family="Liberation Sans" font-size="15.5">{</text>
<text x="-61.39" y="0" transform="translate(38.9,0) rotate(-90) scale(1,1.04)" font-family="Liberation Sans" font-size="15.5">Z</text>
<text x="-51.60" y="0" transform="translate(38.9,0) rotate(-90) scale(1,1.04)" font-family="Liberation Sans" font-size="15.5">b</text>
<text x="-5.76" y="6.72" transform="translate(19.65,39.30) rotate(-90) scale(0.755,1.117)" font-family="Liberation Serif" font-size="24">}</text>
<text x="680.59" y="0" transform="translate(0,1000.8) scale(1,1.04)" font-family="Liberation Serif" font-size="24">Δ</text>
<text x="696.69" y="0" transform="translate(0,1000.8) scale(1,1.04)" font-family="Liberation Serif" font-size="24">ϕ</text>
<text x="710.54" y="0" transform="translate(0,1014.6) scale(1,1.04)" font-family="Liberation Sans" font-size="15.5">{</text>
<text x="714.71" y="0" transform="translate(0,1014.6) scale(1,1.04)" font-family="Liberation Sans" font-size="15.5">Z</text>
<text x="726.10" y="0" transform="translate(0,1014.6) scale(1,1.04)" font-family="Liberation Sans" font-size="15.5">b</text>
<text x="-5.76" y="6.72" transform="translate(738.45,994.00) scale(0.825,1.152)" font-family="Liberation Serif" font-size="24">}</text>
</svg></body></html>
